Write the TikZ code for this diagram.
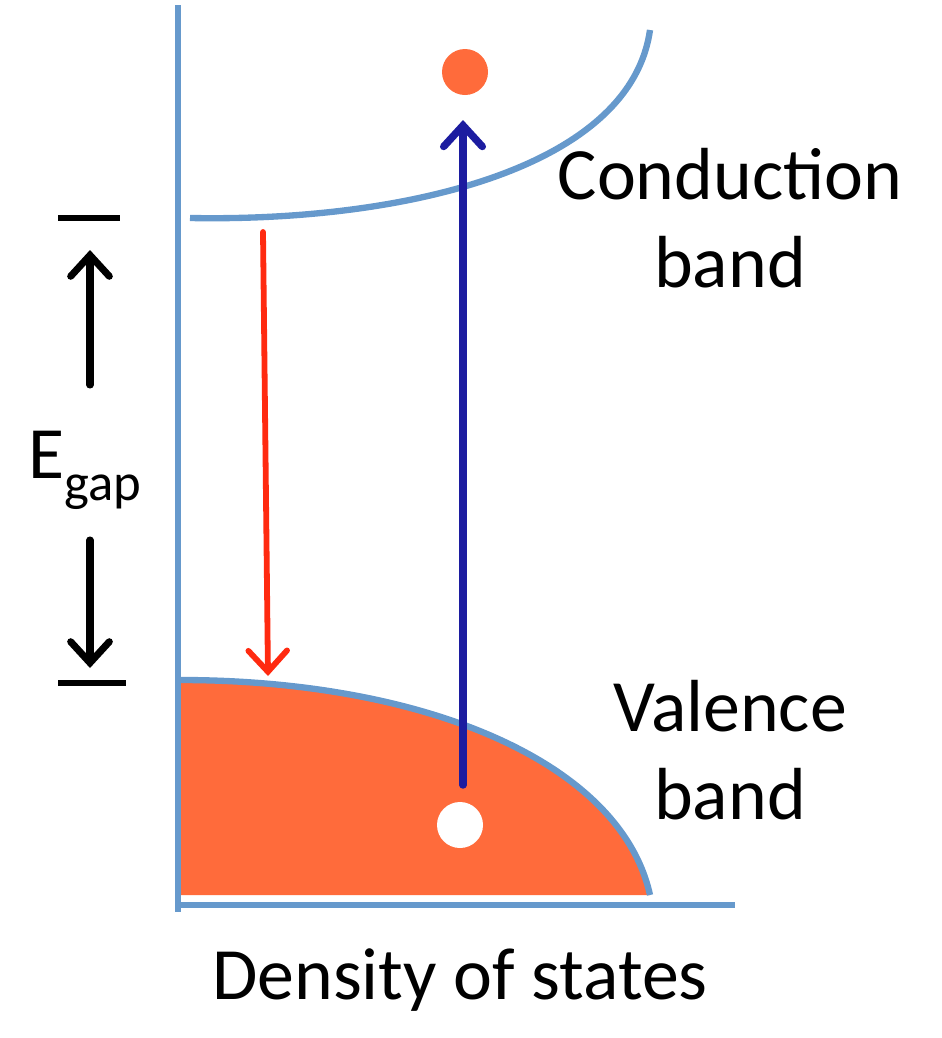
\documentclass[tikz,border=0pt]{standalone}
\usepackage{fontspec}
\setmainfont{Carlito}
\usetikzlibrary{arrows.meta}
\begin{document}
\begin{tikzpicture}[x=0.02cm,y=-0.02cm,
  axis/.style={draw=axblue,line width=3.6pt},
  lbl/.style={font=\fontsize{42}{50}\selectfont,align=center},
  arr/.style={line cap=round,-{Straight Barb[length=12pt,width=22pt,line cap=round]}}]
\definecolor{axblue}{HTML}{6699CC}
\definecolor{orng}{HTML}{FF6B3B}
\definecolor{dblue}{HTML}{1C1CA0}
\definecolor{rd}{HTML}{FF2A10}
\useasboundingbox (0,0) rectangle (942,1038);
% valence fill
\fill[orng] (180,680) .. controls (420,680) and (620,760) .. (650,895) -- (180,895) -- cycle;
\draw[axis] (180,680) .. controls (420,680) and (620,760) .. (650,895);
% axes
\draw[axis] (178,5) -- (178,912);
\draw[axis] (176,905) -- (735,905);
% conduction curve
\draw[axis] (190,218) .. controls (400,222) and (630,170) .. (650,30);
% dots
\node[circle,fill=orng,minimum size=46*0.02cm,inner sep=0] (e) at (465,72) {};
\node[circle,fill=white,minimum size=46*0.02cm,inner sep=0] (h) at (460,825) {};
% arrows
\coordinate (bs) at (463,785); \coordinate (be) at (463,120);
\draw[dblue,arr,line width=4.2pt] (bs) -- (be);
\coordinate (rs) at (263,232); \coordinate (re) at (268,676);
\draw[rd,arr,line width=3.3pt] (rs) -- (re);
% Egap
\draw[line width=3.6pt] (58,218) -- (120,218);
\draw[line width=3.6pt] (58,683) -- (126,683);
\coordinate (u1) at (90,385); \coordinate (u2) at (90,250);
\coordinate (d1) at (90,540); \coordinate (d2) at (90,668);
\draw[arr,line width=4pt] (u1) -- (u2);
\draw[arr,line width=4pt] (d1) -- (d2);
\node[lbl] (eg) at (85,470) {E\raisebox{-0.3em}{\fontsize{30}{34}\selectfont gap}};
\node[lbl] (cb) at (730,218) {Conduction\\band};
\node[lbl] (vb) at (730,750) {Valence\\band};
\node[lbl] (ds) at (460,980) {Density of states};
\end{tikzpicture}
\end{document}
